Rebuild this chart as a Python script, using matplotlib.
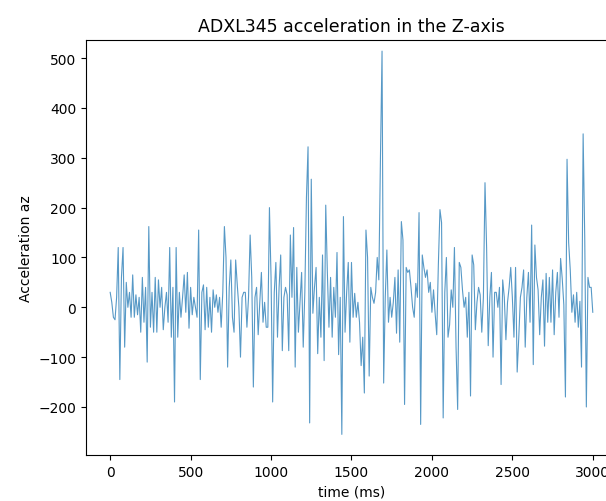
import matplotlib
matplotlib.use('Agg')
import matplotlib.pyplot as plt
import numpy as np

# ADXL345 z-axis samples, one every 10 ms
time_ms = np.arange(0, 3010, 10)

az = [
    # 0 - 100
    30, 10, -20, -25, 20, 120, -145, 60, 120, -80, 50,
    # 110 - 200
    0, 30, -20, 65, -20, 25, -15, 20, -50, 60,
    # 210 - 300
    -30, 40, -110, 162, -40, 30, -50, 60, -50, 55,
    # 310 - 400
    0, 40, -45, 0, 30, -30, 120, -60, 40, -190,
    # 410 - 500
    120, -60, 30, -20, 20, 65, -10, 70, -42, 40,
    # 510 - 600
    -15, 20, 0, -20, 155, -145, 30, 45, -45, 40,
    # 610 - 700
    -40, 20, -50, 35, 0, 25, -10, 20, -40, 30,
    # 710 - 800
    162, 100, -120, 40, 95, -20, -50, 95, 45, 0,
    # 810 - 900
    -100, 20, 30, 30, -40, 20, 145, 60, -160, 20,
    # 910 - 1000
    40, -55, 10, 70, -30, 10, -40, -40, 200, 60,
    # 1010 - 1100
    -190, 30, 90, -60, 40, 105, -87, 20, 40, 25,
    # 1110 - 1200
    -87, 145, 20, 160, -120, 80, -50, 10, 70, -80,
    # 1210 - 1300
    30, 220, 322, -232, 257, -12, 40, 80, -93, 20,
    # 1310 - 1400
    -60, 105, -107, 205, 70, -40, 60, -60, 40, -20,
    # 1410 - 1500
    110, -95, 20, -255, 182, -50, 30, 90, -70, 90,
    # 1510 - 1600
    -20, 28, -20, 10, -30, -117, -60, -172, 155, 100,
    # 1610 - 1700
    -138, 40, 20, 8, 30, 100, 55, 298, 514, -152,
    # 1710 - 1800
    20, 115, -30, 20, -20, 10, 60, -52, 75, -70,
    # 1810 - 1900
    172, 135, -195, 80, 70, 75, 40, 0, -20, 48,
    # 1910 - 2000
    20, 190, -235, 105, 80, 60, 75, 30, 50, -10,
    # 2010 - 2100
    35, -12, -55, 85, 196, 170, -222, 30, 100, -60,
    # 2110 - 2200
    -35, 35, 0, 120, -80, -205, 90, 80, 35, 0,
    # 2210 - 2300
    20, -60, 30, -178, 105, 85, -45, 10, 40, 25,
    # 2310 - 2400
    -50, 20, 250, 120, -77, 20, 70, -100, 30, 30,
    # 2410 - 2500
    0, 40, -155, 55, 20, -65, 10, 40, 80, 20,
    # 2510 - 2600
    -60, 80, -130, -60, 20, 40, 75, -80, 20, 70,
    # 2610 - 2700
    -30, 165, -115, 125, 60, 35, -55, 20, 55, -78,
    # 2710 - 2800
    68, -30, 60, -30, 75, -55, 30, 70, -20, 98,
    # 2810 - 2900
    58, 5, -180, 297, 130, 75, -10, 25, -30, 30,
    # 2910 - 3000
    -40, 12, -120, 348, 140, -200, 60, 40, 40, -10,
]


def graph_accel_z():
    fig = plt.figure(figsize=(6.06, 5.02), dpi=100)
    # right edge of the axes sits past the figure, as in the cropped original
    ax = fig.add_axes([0.142, 0.092, 0.876, 0.827])

    ax.plot(time_ms, az, color='#1f77b4', linewidth=0.8, alpha=0.75)

    ax.set_ylim(-296, 537)
    ax.set_xlabel('time (ms)', fontsize=10)
    ax.set_ylabel('Acceleration az', fontsize=10)
    ax.set_title('ADXL345 acceleration in the Z-axis', fontsize=12.5)
    ax.tick_params(labelsize=10)

    plt.savefig('out.png', dpi=100)


def main():
    graph_accel_z()

main()
